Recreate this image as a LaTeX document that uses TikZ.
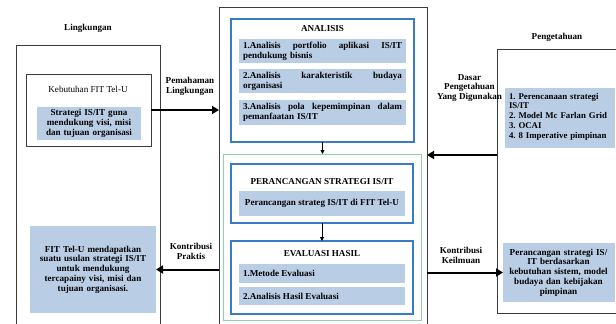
\documentclass[tikz,border=0pt]{standalone}
\usepackage{fontspec}
\setmainfont{Liberation Serif}
\usetikzlibrary{arrows.meta,fit}

\definecolor{itemfill}{HTML}{B9CDE5}
\definecolor{stageblue}{HTML}{3A7BC8}
\definecolor{stagegreen}{HTML}{8ED3A6}
\definecolor{framegray}{HTML}{3C3C3C}

\tikzset{
  every node/.style={inner sep=0pt, outer sep=0pt},
  txt/.style={font=\fontsize{9.1}{9.8}\selectfont\bfseries, align=center},
  plain/.style={font=\fontsize{9.1}{9.8}\selectfont, align=center},
  framebox/.style={draw=framegray, line width=0.9pt},
  stagebox/.style={draw=stageblue, line width=1.3pt},
  groupbox/.style={draw=stagegreen, line width=1pt},
  itembox/.style={fill=itemfill},
  bigarrow/.style={line width=2pt, -{Triangle[length=7pt,width=8pt]}},
  smallarrow/.style={line width=0.8pt, -{Triangle[length=4pt,width=4pt]}},
}

\begin{document}
\frenchspacing
\begin{tikzpicture}[x=1pt, y=-1pt]
  \useasboundingbox (0,0) rectangle (616,324);
  \clip (0,0) rectangle (616,324);

  % ---------- Lingkungan column ----------
  \node[txt] (lingTitle) at (88,28) {Lingkungan};
  \node[framebox, fit={(16,45) (160,340)}] (ling) {};
  \node[framebox, fit={(26,74) (151,146)}] (kebut) {};
  \node[plain] (kebutTitle) at (88,89) {Kebutuhan FIT Tel-U};
  \node[itembox, fit={(37,107) (141,140)}] (kebutItem) {};
  \node[txt, text width=104pt] (kebutText) at (kebutItem.center)
    {Strategi IS/IT guna\\mendukung visi, misi\\dan tujuan organisasi};
  \node[itembox, fit={(30,226) (156,313)}] (hasil) {};
  \node[txt, text width=122pt] (hasilText) at (hasil.center)
    {FIT Tel-U mendapatkan\\suatu usulan strategi IS/IT\\untuk mendukung\\tercapainy visi, misi dan\\tujuan organisasi.};

  % ---------- Process column ----------
  \node[framebox, fit={(219,7) (427,340)}] (proses) {};

  \node[stagebox, fit={(231,19) (414,142)}] (analisis) {};
  \node[txt] (analisisTitle) at (322.5,29) {ANALISIS};
  \node[itembox, fit={(239,39) (406,63)}] (an1) {};
  \node[txt, align=left, text width=159pt] (an1Text) at (an1.center)
    {1.Analisis\hfill portfolio\hfill aplikasi\hfill IS/IT\\pendukung bisnis};
  \node[itembox, fit={(239,69) (406,93)}] (an2) {};
  \node[txt, align=left, text width=159pt] (an2Text) at (an2.center)
    {2.Analisis\hfill karakteristik\hfill budaya\\organisasi};
  \node[itembox, fit={(239,100) (406,125)}] (an3) {};
  \node[txt, align=left, text width=159pt] (an3Text) at (an3.center)
    {3.Analisis\hfill pola\hfill kepemimpinan\hfill dalam\\pemanfaatan IS/IT};

  \node[groupbox, fit={(223,154) (421,320)}] (grup) {};

  \node[stagebox, fit={(231,164) (413,223)}] (rancang) {};
  \node[txt] (rancangTitle) at (322,182) {PERANCANGAN STRATEGI IS/IT};
  \node[itembox, fit={(239,191) (405,216)}] (rc1) {};
  \node[txt] (rc1Text) at (rc1.center) {Perancangan strateg IS/IT di FIT Tel-U};

  \node[stagebox, fit={(231,241) (413,314)}] (evaluasi) {};
  \node[txt] (evaluasiTitle) at (322,254) {EVALUASI HASIL};
  \node[itembox, fit={(239,264) (405,283)}] (ev1) {};
  \node[txt, anchor=west] (ev1Text) at (243,273.5) {1.Metode Evaluasi};
  \node[itembox, fit={(239,287) (405,305)}] (ev2) {};
  \node[txt, anchor=west] (ev2Text) at (243,296) {2.Analisis Hasil Evaluasi};

  % ---------- Pengetahuan column ----------
  \node[txt] (pengTitle) at (557,37) {Pengetahuan};
  \node[framebox, fit={(497,49) (640,313)}] (peng) {};
  \node[itembox, fit={(505,88) (615,148)}] (teori) {};
  \node[txt, font=\fontsize{8.8}{9.7}\selectfont\bfseries, align=left,
        text width=105pt, anchor=west] (teoriText) at (509,116.5)
    {1. Perencanaan strategi\\IS/IT\\2. Model Mc Farlan Grid\\3. OCAI\\4. 8 Imperative pimpinan};
  \node[itembox, fit={(503,243) (615,302)}] (kontrib) {};
  \node[txt, text width=108pt] (kontribText) at (558.5,272.5)
    {Perancangan strategi IS/\\IT berdasarkan\\kebutuhan sistem, model\\budaya dan kebijakan\\pimpinan};

  % ---------- Connectors ----------
  \coordinate (dasarRow) at (0,155);
  \draw[bigarrow] (kebut.east) -- (kebut.east -| proses.west);
  \draw[bigarrow] (peng.west |- dasarRow) -- (proses.east |- dasarRow);
  \draw[bigarrow] (proses.west |- hasil.east) -- (hasil.east);
  \draw[bigarrow] (proses.east |- kontrib.west) -- (kontrib.west);
  \draw[smallarrow] (analisis.south) -- (grup.north -| analisis.south);
  \draw[smallarrow] (rancang.south) -- (evaluasi.north);

  % ---------- Connector labels ----------
  \node[txt] (lblPemahaman) at (190,86.5) {Pemahaman\\Lingkungan};
  \node[txt] (lblDasar) at (469.5,88) {Dasar\\Pengetahuan\\Yang Digunakan};
  \node[txt] (lblPraktis) at (191,251.5) {Kontribusi\\Praktis};
  \node[txt] (lblKeilmuan) at (461,255) {Kontribusi\\Keilmuan};
\end{tikzpicture}
\end{document}
